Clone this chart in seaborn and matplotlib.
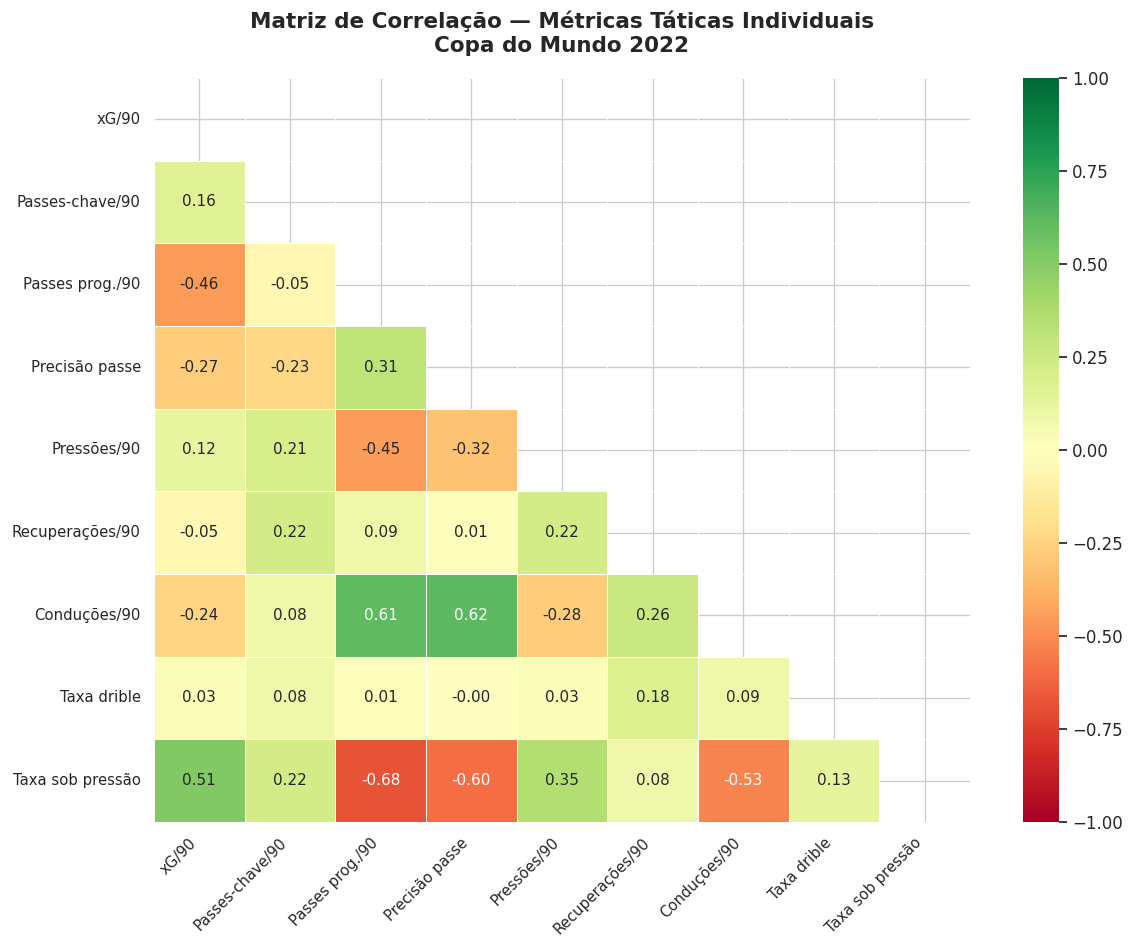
import numpy as np
import pandas as pd
import matplotlib
matplotlib.use("Agg")
import matplotlib.pyplot as plt
import seaborn as sns

labels = ["xG/90", "Passes-chave/90", "Passes prog./90", "Precisão passe", "Pressões/90",
          "Recuperações/90", "Conduções/90", "Taxa drible", "Taxa sob pressão"]

row_passes_chave = [0.16]
row_passes_prog = [-0.46, -0.05]
row_precisao = [-0.27, -0.23, 0.31]
row_pressoes = [0.12, 0.21, -0.45, -0.32]
row_recuperacoes = [-0.05, 0.22, 0.09, 0.01, 0.22]
row_conducoes = [-0.24, 0.08, 0.61, 0.62, -0.28, 0.26]
row_drible = [0.03, 0.08, 0.01, -0.004, 0.03, 0.18, 0.09]
row_sob_pressao = [0.51, 0.22, -0.68, -0.60, 0.35, 0.08, -0.53, 0.13]

rows = [[], row_passes_chave, row_passes_prog, row_precisao, row_pressoes,
        row_recuperacoes, row_conducoes, row_drible, row_sob_pressao]

n = len(labels)
corr = np.eye(n)
for i, r in enumerate(rows):
    for j, v in enumerate(r):
        corr[i, j] = v
        corr[j, i] = v
df = pd.DataFrame(corr, index=labels, columns=labels)

sns.set_theme(style="whitegrid")
W, H = 1134, 948
fig = plt.figure(figsize=(W / 100, H / 100), dpi=100)
ax = fig.add_axes([154 / W, (H - 822) / H, 816 / W, 744 / H])
cax = fig.add_axes([1023 / W, (H - 822) / H, 36 / W, 744 / H])
mask = np.triu(np.ones_like(corr, dtype=bool))
sns.heatmap(df, mask=mask, cmap="RdYlGn", vmin=-1, vmax=1, center=0,
            annot=True, fmt=".2f", annot_kws={"size": 11},
            linewidths=0.5, linecolor="white", ax=ax, cbar_ax=cax)
ax.set_title("Matriz de Correlação — Métricas Táticas Individuais\nCopa do Mundo 2022",
             fontsize=15.5, fontweight="bold", pad=19)
ax.set_xticklabels(ax.get_xticklabels(), rotation=45, ha="right", fontsize=10.75)
ax.set_yticklabels(ax.get_yticklabels(), rotation=0, fontsize=10.75)
cax.tick_params(labelsize=12)
fig.savefig("out.png", dpi=100)
